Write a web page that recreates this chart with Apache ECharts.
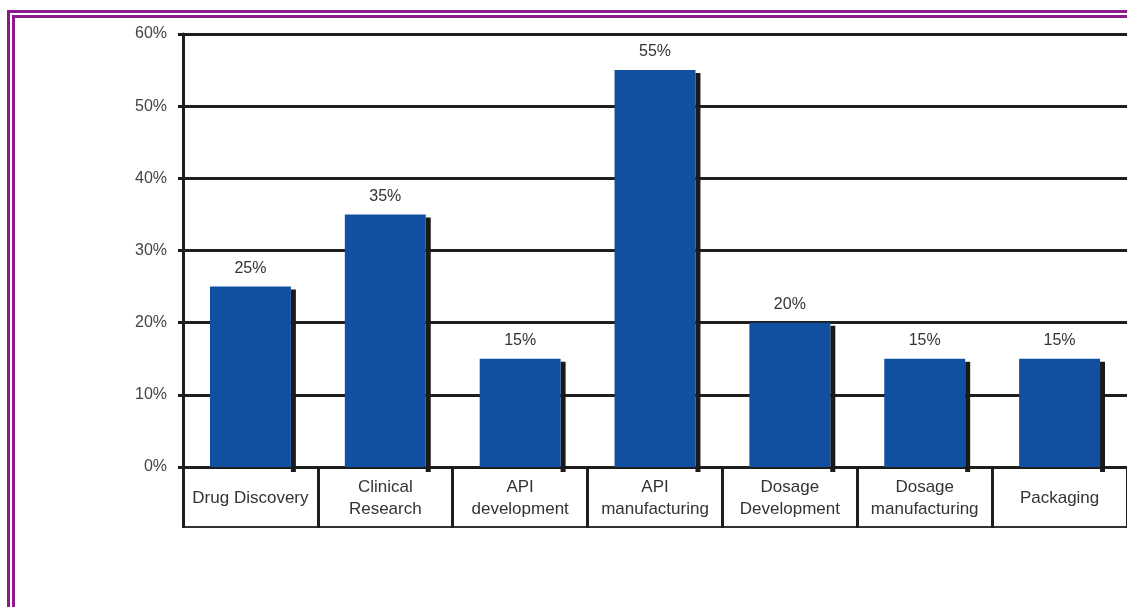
<!DOCTYPE html>
<html>
<head>
<meta charset="utf-8">
<script src="https://cdn.jsdelivr.net/npm/echarts@6/dist/echarts.min.js"></script>
<style>
  html, body { margin: 0; padding: 0; width: 1127px; height: 607px; overflow: hidden; background: #fff; }
  #frame { position: absolute; left: 7px; top: 10px; width: 1200px; height: 700px; border: 8px double #8c1a8c; box-sizing: border-box; }
  #chart { position: absolute; left: 0; top: 0; width: 1127px; height: 607px; }
</style>
</head>
<body>
<div id="frame"></div>
<div id="chart"></div>
<script>
const categories = ['Drug Discovery', 'Clinical\nResearch', 'API\ndevelopment', 'API\nmanufacturing', 'Dosage\nDevelopment', 'Dosage\nmanufacturing', 'Packaging'];
const values = [25, 35, 15, 55, 20, 15, 15];
const yTicks = { min: 0, max: 60, interval: 10 };

const chart = echarts.init(document.getElementById('chart'), null, { renderer: 'canvas' });
const BAR_RATIO = 0.6;
const font = 'Liberation Sans, Arial, sans-serif';

chart.setOption({
  backgroundColor: 'transparent',
  animation: false,
  grid: { left: 183, top: 34, width: 946, bottom: 140, containLabel: false },
  xAxis: [
    {
      type: 'category',
      data: categories,
      position: 'bottom',
      boundaryGap: true,
      axisLine: { show: true, lineStyle: { color: '#1e1e1e', width: 3 } },
      axisTick: { show: true, alignWithLabel: false, interval: 0, length: 61, lineStyle: { color: '#1e1e1e', width: 3 } },
      axisLabel: { show: true, interval: 0, margin: 31, verticalAlign: 'middle', align: 'center', color: '#333', fontSize: 17, lineHeight: 22, fontFamily: font },
      splitLine: { show: false }
    },
    {
      type: 'category',
      data: categories,
      position: 'bottom',
      offset: 60,
      axisLine: { show: true, lineStyle: { color: '#333', width: 2 } },
      axisTick: { show: false },
      axisLabel: { show: false },
      splitLine: { show: false }
    }
  ],
  yAxis: {
    type: 'value',
    min: yTicks.min,
    max: yTicks.max,
    interval: yTicks.interval,
    axisLine: { show: true, lineStyle: { color: '#1e1e1e', width: 3 } },
    axisTick: { show: true, length: 5, lineStyle: { color: '#1e1e1e', width: 3 } },
    axisLabel: { formatter: '{value}%', margin: 16, color: '#444', fontSize: 16, fontFamily: font },
    splitLine: { show: true, lineStyle: { color: '#1e1e1e', width: 3 } }
  },
  series: [
    {
      type: 'custom',
      xAxisIndex: 0,
      data: values.map((v, i) => [i, v]),
      encode: { x: 0, y: 1 },
      z: 1,
      renderItem: function (params, api) {
        const top = api.coord([api.value(0), api.value(1)]);
        const base = api.coord([api.value(0), 0]);
        const bw = api.size([1, 0])[0] * BAR_RATIO;
        return {
          type: 'rect',
          shape: { x: top[0] + bw / 2, y: top[1] + 3, width: 5, height: base[1] - top[1] + 2 },
          style: { fill: '#1a1a1a' }
        };
      }
    },
    {
      type: 'bar',
      xAxisIndex: 0,
      data: values,
      barWidth: (BAR_RATIO * 100) + '%',
      z: 3,
      itemStyle: { color: '#1150a0' },
      label: { show: true, position: 'top', distance: 10, formatter: '{c}%', color: '#333', fontSize: 16, fontFamily: font }
    }
  ]
});
</script>
</body>
</html>
